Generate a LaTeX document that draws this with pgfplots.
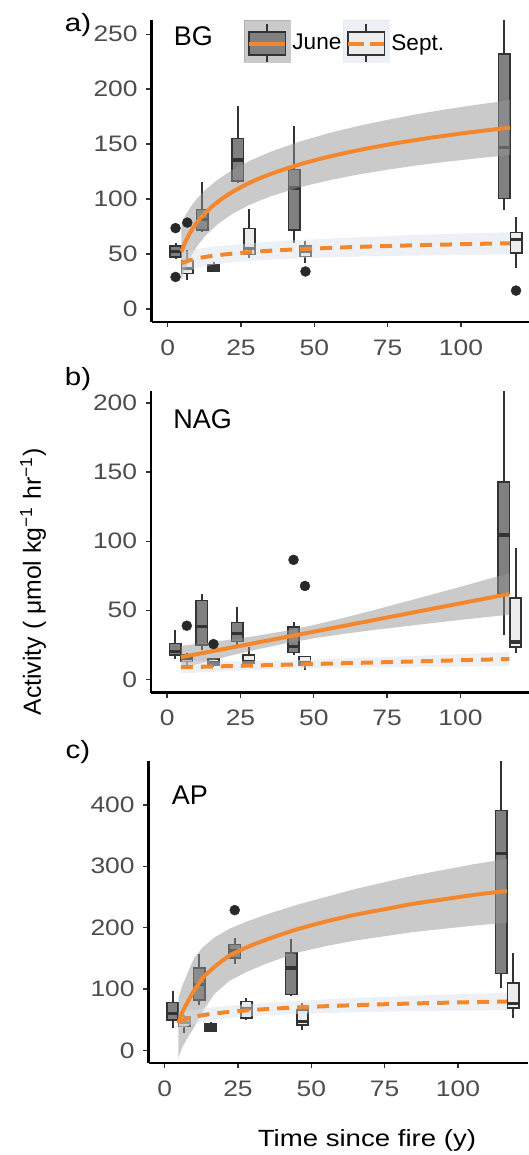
\documentclass[border=0pt]{standalone}
\usepackage{fontspec}
\setmainfont{Liberation Sans}[FakeStretch=1.18]
\newfontfamily\plainsans{Liberation Sans}
\usepackage{pgfplots}
\pgfplotsset{compat=1.18}
\usepgfplotslibrary{statistics}
\definecolor{edge}{RGB}{51,51,51}
\definecolor{boxJ}{RGB}{128,128,128}
\definecolor{boxS}{RGB}{237,237,237}
\definecolor{dotc}{RGB}{40,40,40}
\definecolor{bandJ}{RGB}{150,150,150}
\definecolor{bandS}{RGB}{215,225,235}
\definecolor{orng}{RGB}{242,135,45}
\definecolor{tickc}{RGB}{77,77,77}
\pgfplotsset{
  panel/.style={
    scale only axis, width=189.9pt, height=151pt,
    xmin=-5.5, xmax=124,
    axis lines*=left,
    axis line style={line width=1.2pt, black},
    xtick={0,25,50,75,100},
    tick align=outside,
    major tick length=2.6pt,
    tick style={line width=0.7pt, color=edge},
    ticklabel style={font=\fontsize{11.2}{13}\selectfont, text=tickc},
    xticklabel style={yshift=-2.7pt},
    yticklabel style={xshift=-0.8pt},
    /pgf/number format/assume math mode=true,
  },
  bx/.style={forget plot, boxplot/draw direction=y, boxplot/box extend=3.9,
    boxplot/whisker extend=0, solid, line width=1pt, draw=edge,
    mark=*, mark size=2.5pt, mark options={draw=dotc, fill=dotc, line width=0.2pt, solid},
    boxplot/every median/.style={draw=edge, line width=1.6pt},
    boxplot/every whisker/.style={draw=edge, line width=1pt}},
  jbox/.style={bx, boxplot/every box/.style={draw=edge, fill=boxJ, line width=0.8pt}},
  sbox/.style={bx, boxplot/every box/.style={draw=edge, fill=boxS, line width=0.8pt}},
  dbox/.style={bx, boxplot/every box/.style={draw=edge, fill=edge, line width=0.8pt}},
  bandj/.style={forget plot, draw=none, fill=bandJ, fill opacity=0.5},
  bands/.style={forget plot, draw=none, fill=bandS, fill opacity=0.45},
  linej/.style={forget plot, orng, line width=2pt, smooth, no marks},
  lines/.style={forget plot, orng, line width=2pt, smooth, no marks, dash pattern=on 6pt off 4pt},
}
\begin{document}
\begin{tikzpicture}
\path[use as bounding box] (0,0) rectangle (264.5pt,577.5pt);
% ---------------- a) BG ----------------
\begin{axis}[panel, at={(75.75pt,416.5pt)}, anchor=south west,
  ymin=-12, ymax=263, ytick={0,50,100,150,200,250},
  legend columns=2, legend cell align=left,
  legend style={at={(0.2435,1)}, anchor=north west, draw=none, fill=none,
    inner sep=0pt, outer sep=0pt, column sep=0pt, row sep=0pt,
    font=\plainsans\fontsize{11.3}{13}\selectfont, nodes={inner sep=0.8pt}}]
\addlegendimage{legend image code/.code={
  \fill[bandJ, opacity=0.5] (0pt,-9.2pt) rectangle (23pt,11.65pt);
  \draw[edge, line width=1pt] (11.4pt,-9.2pt) -- (11.4pt,10pt);
  \draw[edge, fill=boxJ, line width=0.8pt] (2.2pt,-5.8pt) rectangle (20.5pt,5.8pt);
  \draw[orng, line width=2pt] (2.2pt,0pt) -- (20.5pt,0pt);}}
\addlegendentry{June}
\addlegendimage{legend image code/.code={
  \fill[bandS, opacity=0.45] (0pt,-9.2pt) rectangle (23pt,11.65pt);
  \draw[edge, line width=1pt] (11.4pt,-9.2pt) -- (11.4pt,10pt);
  \draw[edge, fill=boxS, line width=0.8pt] (2.2pt,-5.8pt) rectangle (20.5pt,5.8pt);
  \draw[orng, line width=2pt, dash pattern=on 8pt off 3pt] (2.2pt,0pt) -- (20.5pt,0pt);}}
\addlegendentry{Sept.}
% June boxes
\addplot[jbox, boxplot prepared={draw position=2.7, lower whisker=45, lower quartile=47, median=52, upper quartile=57, upper whisker=60}] table[row sep=\\, y index=0] {d\\73.5\\29\\};
\addplot[jbox, boxplot prepared={draw position=11.8, lower whisker=70, lower quartile=72, median=81, upper quartile=90.6, upper whisker=115.5}] coordinates {};
\addplot[jbox, boxplot prepared={draw position=23.9, lower whisker=115, lower quartile=116.5, median=135.5, upper quartile=155, upper whisker=184.5}] coordinates {};
\addplot[jbox, boxplot prepared={draw position=43.1, lower whisker=60, lower quartile=72, median=110, upper quartile=127, upper whisker=166.5}] coordinates {};
\addplot[jbox, boxplot prepared={draw position=114.8, lower whisker=90, lower quartile=100.5, median=147, upper quartile=232, upper whisker=263}] coordinates {};
% Sept boxes
\addplot[sbox, boxplot prepared={draw position=6.7, lower whisker=26.4, lower quartile=32, median=37, upper quartile=44, upper whisker=53.6}] table[row sep=\\, y index=0] {d\\78.5\\};
\addplot[dbox, boxplot prepared={draw position=15.8, lower whisker=34, lower quartile=34.5, median=37, upper quartile=40, upper whisker=43}] coordinates {};
\addplot[sbox, boxplot prepared={draw position=27.9, lower whisker=46, lower quartile=49.5, median=55, upper quartile=73, upper whisker=90.5}] coordinates {};
\addplot[sbox, boxplot prepared={draw position=47, lower whisker=42, lower quartile=47.5, median=52, upper quartile=57, upper whisker=62}] table[row sep=\\, y index=0] {d\\34\\};
\addplot[sbox, boxplot prepared={draw position=118.8, lower whisker=37, lower quartile=51, median=63, upper quartile=69.5, upper whisker=84}] table[row sep=\\, y index=0] {d\\16.6\\};
% bands
\addplot[bandj] coordinates {(4.7,77.5) (6,84.8) (8,93.4) (10,100.4) (13,108.7) (17,117.5) (22,126.3) (28,134.8) (35,142.9) (45,152.3) (55,160.0) (65,166.5) (75,172.1) (85,177.2) (95,181.7) (105,185.7) (116.7,190.0)
 (116.7,140.0) (105,136.9) (95,133.9) (85,130.6) (75,126.7) (65,122.3) (55,117.0) (45,110.7) (35,102.3) (28,94.8) (22,86.3) (17,76.9) (13,66.9) (10,56.8) (8,48.0) (6,36.4) (4.7,26.5)};
\addplot[bands] coordinates {(4.7,51.7) (6,52.6) (8,53.6) (10,54.5) (13,55.7) (17,56.9) (22,58.2) (28,59.6) (35,61.0) (45,62.6) (55,64.0) (65,65.2) (75,66.3) (85,67.3) (95,68.1) (105,68.9) (116.7,69.7)
 (116.7,49.7) (105,49.3) (95,48.9) (85,48.5) (75,48.1) (65,47.6) (55,46.8) (45,46.0) (35,44.8) (28,43.6) (22,42.2) (17,40.7) (13,38.9) (10,37.1) (8,35.4) (6,33.2) (4.7,31.3)};
% lines
\addplot[linej] coordinates {(4.7,52.0) (6,60.6) (8,70.7) (10,78.6) (13,87.8) (17,97.2) (22,106.3) (28,114.8) (35,122.6) (45,131.5) (55,138.5) (65,144.4) (75,149.4) (85,153.9) (95,157.8) (105,161.3) (116.7,165.0)};
\addplot[lines] coordinates {(4.7,41.5) (6,42.9) (8,44.5) (10,45.8) (13,47.3) (17,48.8) (22,50.2) (28,51.6) (35,52.9) (45,54.3) (55,55.4) (65,56.4) (75,57.2) (85,57.9) (95,58.5) (105,59.1) (116.7,59.7)};
\node[anchor=west, inner sep=0pt, font=\plainsans\fontsize{13.5}{15}\selectfont] at (axis cs:2,248) {BG};
\end{axis}
% ---------------- b) NAG ----------------
\begin{axis}[panel, at={(75.5pt,231.15pt)}, anchor=south west,
  ymin=-9.7, ymax=209, ytick={0,50,100,150,200}]
\addplot[jbox, boxplot prepared={draw position=2.7, lower whisker=15, lower quartile=17.6, median=20, upper quartile=26, upper whisker=36}] coordinates {};
\addplot[jbox, boxplot prepared={draw position=11.8, lower whisker=21, lower quartile=25, median=38, upper quartile=57, upper whisker=62}] coordinates {};
\addplot[jbox, boxplot prepared={draw position=23.9, lower whisker=25, lower quartile=27.5, median=33, upper quartile=41, upper whisker=52}] coordinates {};
\addplot[jbox, boxplot prepared={draw position=43.1, lower whisker=17.6, lower quartile=19.3, median=24, upper quartile=38, upper whisker=41.5}] table[row sep=\\, y index=0] {d\\86.5\\};
\addplot[jbox, boxplot prepared={draw position=114.8, lower whisker=32, lower quartile=62, median=104.5, upper quartile=143, upper whisker=209}] coordinates {};
\addplot[sbox, boxplot prepared={draw position=6.7, lower whisker=9, lower quartile=12.8, median=15, upper quartile=17.6, upper whisker=19}] table[row sep=\\, y index=0] {d\\38.8\\};
\addplot[sbox, boxplot prepared={draw position=15.8, lower whisker=9, lower quartile=10.4, median=12, upper quartile=14.5, upper whisker=15}] table[row sep=\\, y index=0] {d\\25.5\\};
\addplot[sbox, boxplot prepared={draw position=27.9, lower whisker=10, lower quartile=11.6, median=13, upper quartile=17.6, upper whisker=23.7}] coordinates {};
\addplot[sbox, boxplot prepared={draw position=47, lower whisker=6.7, lower quartile=10.4, median=12, upper quartile=16.4, upper whisker=17}] table[row sep=\\, y index=0] {d\\67.6\\};
\addplot[sbox, boxplot prepared={draw position=118.8, lower whisker=19.3, lower quartile=23.6, median=27, upper quartile=58.7, upper whisker=95}] coordinates {};
\addplot[bandj] coordinates {(4.7,24.2) (10,25.6) (20,28.3) (30,31.3) (41,35.3) (50,39.3) (60,44.4) (70,49.8) (80,55.5) (90,61.2) (100,67.0) (116.7,76.8)
 (116.7,46.8) (100,43.0) (90,40.6) (80,38.1) (70,35.6) (60,32.8) (50,29.7) (41,26.3) (30,21.3) (20,16.3) (10,10.8) (4.7,7.8)};
\addplot[bands] coordinates {(4.7,13.2) (20,13.0) (41,13.6) (60,15.1) (80,16.6) (100,18.3) (116.7,19.7)
 (116.7,9.7) (100,9.3) (80,8.8) (60,8.3) (41,7.6) (20,6.0) (4.7,4.2)};
\addplot[linej] coordinates {(4.7,16.0) (41,30.8) (80,46.8) (116.7,61.8)};
\addplot[lines] coordinates {(4.7,8.7) (41,10.6) (80,12.7) (116.7,14.7)};
\node[anchor=west, inner sep=0pt, font=\plainsans\fontsize{13.5}{15}\selectfont] at (axis cs:2,188) {NAG};
\end{axis}
% ---------------- c) AP ----------------
\begin{axis}[panel, at={(74.25pt,45.85pt)}, anchor=south west,
  ymin=-21, ymax=471, ytick={0,100,200,300,400}]
\addplot[jbox, boxplot prepared={draw position=2.7, lower whisker=36, lower quartile=50, median=59.6, upper quartile=78, upper whisker=96}] coordinates {};
\addplot[jbox, boxplot prepared={draw position=11.8, lower whisker=74, lower quartile=82.5, median=108, upper quartile=134, upper whisker=157.5}] coordinates {};
\addplot[jbox, boxplot prepared={draw position=23.9, lower whisker=140, lower quartile=151, median=163, upper quartile=172.5, upper whisker=183.5}] table[row sep=\\, y index=0] {d\\228.5\\};
\addplot[jbox, boxplot prepared={draw position=43.1, lower whisker=90, lower quartile=91, median=134.4, upper quartile=159, upper whisker=181.8}] coordinates {};
\addplot[jbox, boxplot prepared={draw position=114.8, lower whisker=101.6, lower quartile=125, median=321, upper quartile=390.7, upper whisker=471}] coordinates {};
\addplot[sbox, boxplot prepared={draw position=6.7, lower whisker=28, lower quartile=38.8, median=45, upper quartile=55, upper whisker=58}] coordinates {};
\addplot[dbox, boxplot prepared={draw position=15.8, lower whisker=30, lower quartile=32, median=37, upper quartile=44, upper whisker=47}] coordinates {};
\addplot[sbox, boxplot prepared={draw position=27.9, lower whisker=50, lower quartile=52.5, median=68, upper quartile=80, upper whisker=85}] coordinates {};
\addplot[sbox, boxplot prepared={draw position=47, lower whisker=33.4, lower quartile=41.6, median=47, upper quartile=66, upper whisker=77}] coordinates {};
\addplot[sbox, boxplot prepared={draw position=118.8, lower whisker=52.5, lower quartile=69, median=76, upper quartile=110, upper whisker=159}] coordinates {};
\addplot[bandj] coordinates {(4.7,85) (6,105) (8,128) (10,150) (13,168) (17,184) (22,198) (28,210) (35,222) (45,237) (55,250) (65,263) (75,274) (85,285) (95,294) (105,303) (116.7,312)
 (116.7,208) (105,203) (95,198) (85,193) (75,186) (65,179) (55,170) (45,159) (35,142) (28,128) (22,113) (17,92) (13,64) (10,37) (8,22) (6,5) (4.7,-13)};
\addplot[bands] coordinates {(4.7,61.4) (6,62.8) (8,64.6) (10,66.2) (13,68.2) (17,70.4) (22,72.7) (28,75.2) (35,77.6) (45,80.7) (55,83.2) (65,85.4) (75,87.4) (85,89.2) (95,90.8) (105,92.2) (116.7,93.7)
 (116.7,65.7) (105,65.0) (95,64.4) (85,63.8) (75,63.0) (65,62.0) (55,60.8) (45,59.3) (35,57.2) (28,55.2) (22,52.7) (17,49.8) (13,46.6) (10,43.2) (8,40.2) (6,36.2) (4.7,32.6)};
\addplot[linej] coordinates {(4.7,44) (6,62) (8,80) (10,97) (13,118) (17,136) (22,154) (28,168) (35,181) (45,197) (55,210) (65,221) (75,230) (85,239) (95,246) (105,253) (116.7,260)};
\addplot[lines] coordinates {(4.7,47.0) (6,49.5) (8,52.4) (10,54.7) (13,57.4) (17,60.1) (22,62.7) (28,65.2) (35,67.4) (45,70.0) (55,72.0) (65,73.7) (75,75.2) (85,76.5) (95,77.6) (105,78.6) (116.7,79.7)};
\node[anchor=west, inner sep=0pt, font=\plainsans\fontsize{13.5}{15}\selectfont] at (axis cs:2.3,416) {AP};
\end{axis}
% labels
\node[font=\fontsize{12.5}{14}\selectfont] at (39pt,565pt) {a)};
\node[font=\fontsize{12.5}{14}\selectfont] at (39pt,388pt) {b)};
\node[font=\fontsize{12.5}{14}\selectfont] at (39pt,201.5pt) {c)};
\node[rotate=90, font=\plainsans\fontsize{12.4}{14}\selectfont] at (16.5pt,286.5pt) {Activity ( μmol kg\textsuperscript{−1} hr\textsuperscript{−1})};
\node[font=\fontsize{11.7}{14}\selectfont] at (183.5pt,7.5pt) {Time since fire (y)};
\end{tikzpicture}
\end{document}
